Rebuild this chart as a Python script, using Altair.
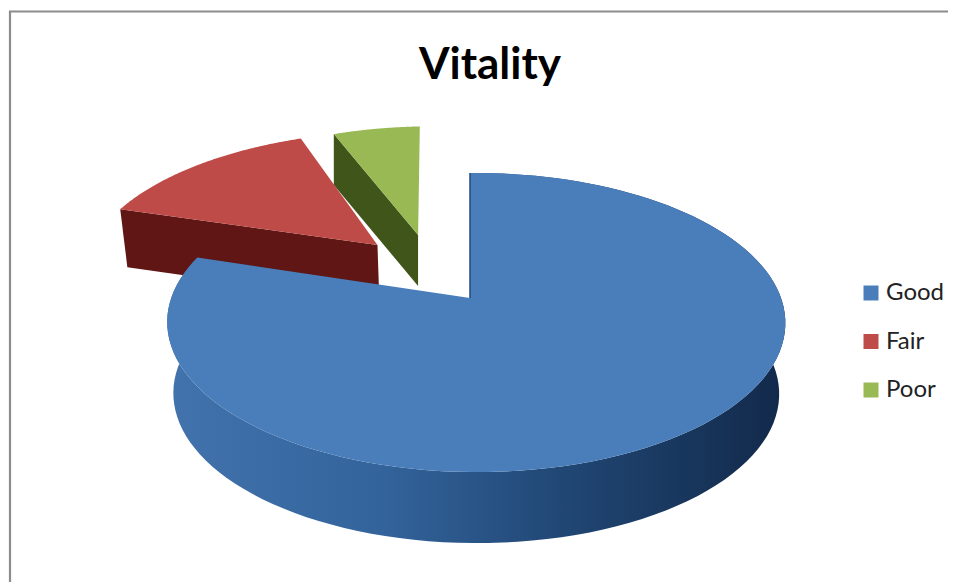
import math
import altair as alt

# Values
categories = ["Good", "Fair", "Poor"]
shares = [79.8, 14.5, 5.7]
colors = ["#4A7EBB", "#BE4B48", "#98B954"]
side_colors = [None, "#5F1614", "#3F5519"]

# Drawing parameters (page pixels minus 8px margin are applied in prj)
explode = {"Good": (0.0, 0.0), "Fair": (-0.325, 0.39), "Poor": (-0.184, 0.468)}
radius = {"Good": 1.0, "Fair": 1.03, "Poor": 1.0}
turn = {"Good": 0.0, "Fair": 0.0, "Poor": -1.2}
depth = {"Good": 71, "Fair": 58, "Poor": 51}
x_shrink = {"Good": 0.98, "Fair": 0.98, "Poor": 1.0}


def prj(x, y):
    w = 1 + 0.164 * y - 0.02 * x
    return (470 + 304.8 * x / w - 8, 298 - 145.5 * y / w - 8)


def sector(name, start, end, n=120):
    ox, oy = explode[name]
    r = radius[name]
    rim = []
    for i in range(n + 1):
        t = math.radians(start + turn[name] + (end - start) * i / n)
        rim.append(prj(r * math.sin(t) + ox, r * math.cos(t) + oy))
    return prj(ox, oy), rim


def lower(name, pt):
    k = x_shrink[name]
    return (468 + k * (pt[0] - 468), pt[1] + depth[name])


def feature(kind, coords, name=""):
    pts = [list(p) for p in coords]
    if kind == "Polygon":
        pts = pts + [pts[0]]
        geom = {"type": "Polygon", "coordinates": [pts]}
    else:
        geom = {"type": "LineString", "coordinates": pts}
    return {"type": "Feature", "geometry": geom, "properties": {"name": name}}


angles = {}
a = 0.0
for c, s in zip(categories, shares):
    angles[c] = (a, a + s * 3.6)
    a += s * 3.6

proj = dict(type="identity", scale=1, translate=[0, 0])
W, H = 940, 574


def shape(feat, **mark):
    return alt.Chart(alt.Data(values=[feat])).mark_geoshape(**mark).project(**proj)


def top(feat):
    return shape(feat, strokeWidth=0).encode(
        color=alt.Color(
            "properties.name:N",
            scale=alt.Scale(domain=categories, range=colors),
            legend=alt.Legend(
                title=None,
                orient="none",
                legendX=851,
                legendY=273,
                symbolType="square",
                symbolSize=225,
                symbolStrokeWidth=0,
                labelFontSize=24,
                labelFont="Lato",
                labelColor="#222222",
                labelOffset=3,
                rowPadding=24.5,
            ),
        )
    )


layers = []

# page frame (left and top only) also pins the projection extent
layers.append(
    shape(feature("LineString", [(2, H), (2, 3.5), (W, 3.5)]), filled=False, stroke="#8C8C8C", strokeWidth=2.2)
)

# Poor
apex, rim = sector("Poor", *angles["Poor"])
layers.append(shape(feature("Polygon", [rim[0], lower("Poor", rim[0]), lower("Poor", apex), apex]), fill=side_colors[2], strokeWidth=0))
layers.append(top(feature("Polygon", [apex] + rim, "Poor")))

# Fair
apex, rim = sector("Fair", *angles["Fair"])
layers.append(shape(feature("Polygon", [rim[0], lower("Fair", rim[0]), lower("Fair", apex), apex]), fill=side_colors[1], strokeWidth=0))
layers.append(top(feature("Polygon", [apex] + rim, "Fair")))

# Good
apex, rim = sector("Good", *angles["Good"])
band = rim + [lower("Good", p) for p in reversed(rim)]
gradient = alt.Gradient(
    gradient="linear",
    x1=0,
    x2=1,
    y1=0,
    y2=0,
    stops=[
        alt.GradientStop(offset=0, color="#4273AC"),
        alt.GradientStop(offset=0.35, color="#33639B"),
        alt.GradientStop(offset=0.65, color="#204673"),
        alt.GradientStop(offset=1, color="#12294A"),
    ],
)
layers.append(shape(feature("Polygon", band), fill=gradient, strokeWidth=0))
layers.append(top(feature("Polygon", [apex] + rim, "Good")))
layers.append(shape(feature("LineString", [apex, rim[0]]), filled=False, stroke="#1F4A80", strokeWidth=1.5))

chart = (
    alt.layer(*layers)
    .resolve_scale(color="shared")
    .properties(
        width=W,
        height=H,
        padding=0,
        autosize=alt.AutoSizeParams(type="none"),
        title=alt.TitleParams(
            "Vitality",
            font="Lato",
            fontSize=44,
            fontWeight="bold",
            color="#000000",
            anchor="middle",
            frame="group",
            dx=12,
            dy=84,
        ),
    )
    .configure_view(stroke=None)
)

chart.save("out.html", embed_options={"renderer": "svg", "actions": False})
